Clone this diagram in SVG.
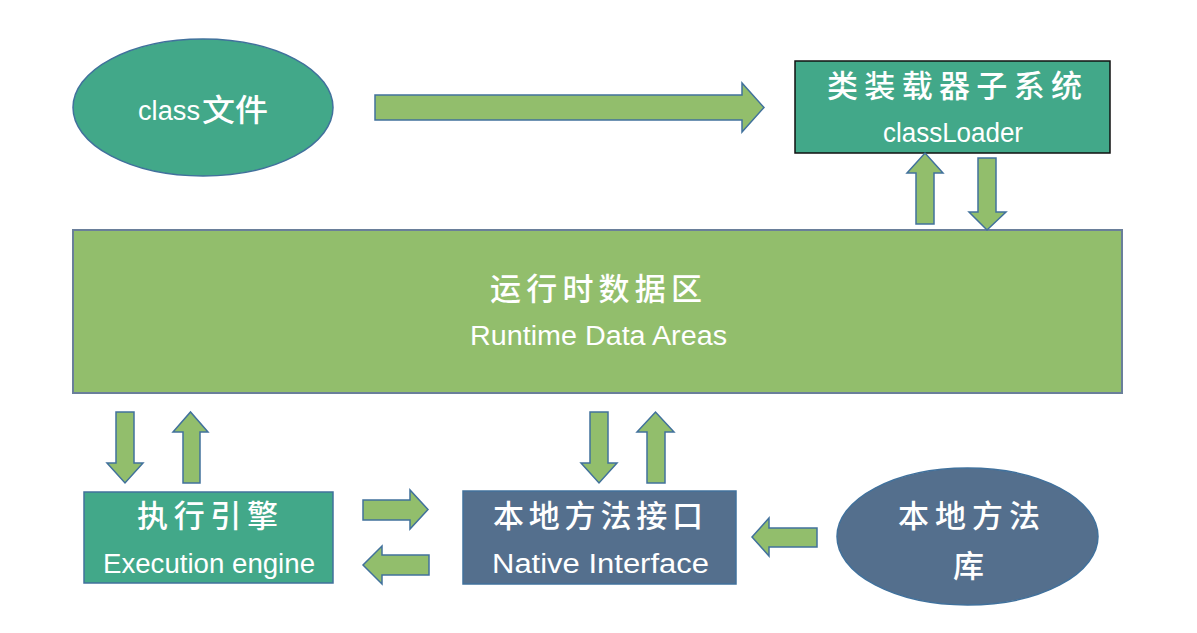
<svg xmlns="http://www.w3.org/2000/svg" width="1197" height="633" viewBox="0 0 1197 633">
<style>
.teal{fill:#42A889;stroke:#41719C;stroke-width:1.5}
.blue{fill:#546F8D;stroke:#41719C;stroke-width:1.5}
.main{fill:#92BE6C;stroke:#6A7F9A;stroke-width:2}
.arr{fill:#92BE6C;stroke:#41719C;stroke-width:1.5;stroke-linejoin:miter}
.cn{font-family:"Noto Sans CJK SC","DejaVu Sans",sans-serif;fill:#fff;font-size:31px;font-weight:500}
.en{font-family:"Liberation Sans","DejaVu Sans",sans-serif;fill:#fff;font-size:27px}
</style>
<rect width="1197" height="633" fill="#fff"/>
<g id="class-file">
<ellipse class="teal" cx="203" cy="107.5" rx="130" ry="68.5"/>
<text class="en" x="138" y="120" textLength="62" lengthAdjust="spacingAndGlyphs">class</text>
<text class="cn" x="202" y="121" textLength="66" lengthAdjust="spacingAndGlyphs">文件</text>
</g>
<g id="classloader">
<rect x="795" y="61" width="315" height="92" fill="#42A889" stroke="#111" stroke-width="1.5"/>
<text class="cn" x="827" y="97" textLength="255" lengthAdjust="spacing">类装载器子系统</text>
<text class="en" x="883" y="142" textLength="140" lengthAdjust="spacingAndGlyphs">classLoader</text>
</g>
<g id="runtime-data-areas">
<rect class="main" x="73" y="230" width="1049" height="163"/>
<text class="cn" x="490" y="300" textLength="212" lengthAdjust="spacing">运行时数据区</text>
<text class="en" x="470" y="345" textLength="257" lengthAdjust="spacingAndGlyphs">Runtime Data Areas</text>
</g>
<g id="execution-engine">
<rect class="teal" x="84" y="492" width="249" height="91"/>
<text class="cn" x="137" y="527" textLength="141" lengthAdjust="spacing">执行引擎</text>
<text class="en" x="103" y="573" textLength="212" lengthAdjust="spacingAndGlyphs">Execution engine</text>
</g>
<g id="native-interface">
<rect class="blue" x="463" y="491" width="273" height="93"/>
<text class="cn" x="493" y="527" textLength="210" lengthAdjust="spacing">本地方法接口</text>
<text class="en" x="492" y="573" textLength="217" lengthAdjust="spacingAndGlyphs">Native Interface</text>
</g>
<g id="native-library">
<ellipse class="blue" cx="967.5" cy="536.5" rx="130.5" ry="68.5"/>
<text class="cn" x="898" y="527" textLength="142" lengthAdjust="spacing">本地方法</text>
<text class="cn" x="953" y="577">库</text>
</g>
<g id="connectors">
<polygon class="arr" points="375,95 742,95 742,83 764,107.5 742,132 742,120 375,120"/>
<polygon class="arr" points="916,224 916,173 907,173 925,153 943,173 934,173 934,224"/>
<polygon class="arr" points="978,158 996,158 996,212 1006,212 987,230 969,212 978,212"/>
<polygon class="arr" points="116,412 134,412 134,463 143,463 125,483 107,463 116,463"/>
<polygon class="arr" points="183,483 183,432 173,432 190.5,412 208,432 200,432 200,483"/>
<polygon class="arr" points="590,412 608,412 608,463 617,463 599,483 581,463 590,463"/>
<polygon class="arr" points="647,483 647,432 637,432 655.5,412 674,432 665,432 665,483"/>
<polygon class="arr" points="363,500 410,500 410,490 428,509.5 410,529 410,520 363,520"/>
<polygon class="arr" points="429,555 382,555 382,546 363,565 382,584 382,575 429,575"/>
<polygon class="arr" points="817,528 769,528 769,518 752,537 769,556 769,547 817,547"/>
</g>
</svg>
